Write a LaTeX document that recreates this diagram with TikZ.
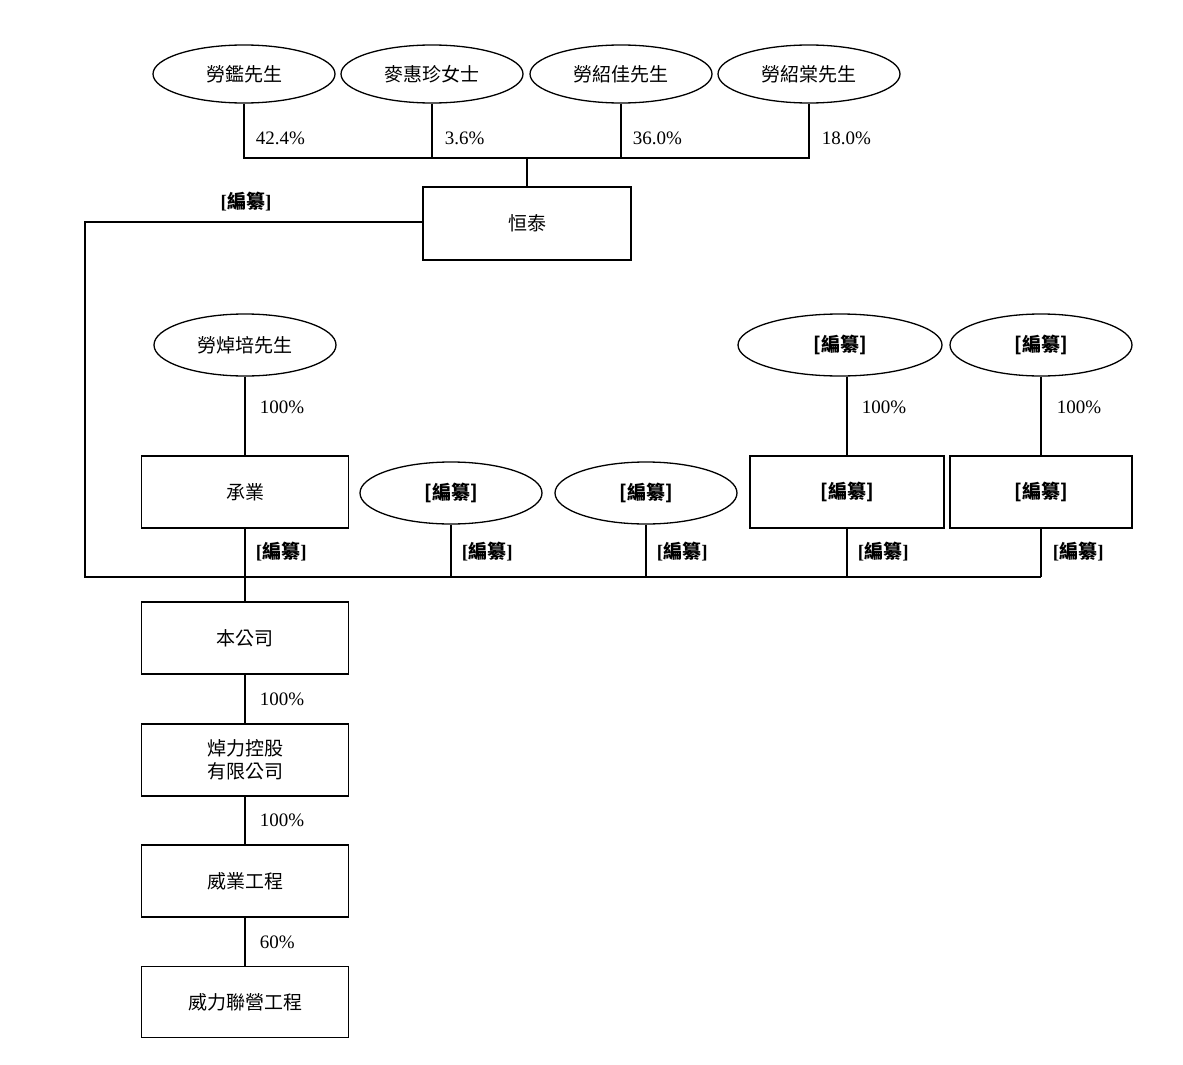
\documentclass[tikz,border=0pt]{standalone}
\usepackage{fontspec}
\setmainfont{Liberation Serif}
\newfontfamily\cjk{Noto Sans CJK TC}
\usetikzlibrary{shapes.geometric}
\begin{document}
\begin{tikzpicture}[x=1pt,y=-1pt,line width=1.3pt,
  every node/.style={font=\fontsize{19}{23}\selectfont},
  ell/.style={draw,ellipse,minimum width=182pt,minimum height=58pt,inner sep=0pt,font=\fontsize{19}{23}\selectfont\cjk},
  box/.style={draw,rectangle,minimum width=207pt,minimum height=72pt,inner sep=0pt,align=center,font=\fontsize{19}{23}\selectfont\cjk},
  pct/.style={anchor=west,font=\fontsize{19}{23}\selectfont}]
\useasboundingbox (0,0) rectangle (1183,1065);
\newcommand{\bz}{\textbf{[}{\cjk\bfseries 編纂}\textbf{]}}
% top
\node[ell] (e1) at (244,74) {勞鑑先生};
\node[ell] (e2) at (432,74) {麥惠珍女士};
\node[ell] (e3) at (621,74) {勞紹佳先生};
\node[ell] (e4) at (809,74) {勞紹棠先生};
\coordinate (j1) at (244,158); \coordinate (j4) at (809,158);
\coordinate (j2) at (432,158); \coordinate (j3) at (621,158); \coordinate (jm) at (527,158);
\draw (e1.south) -- (j1) -- (j4) -- (e4.south);
\draw (e2.south) -- (j2); \draw (e3.south) -- (j3);
\node[pct] at (252,138) {42.4\%};
\node[pct] at (441,138) {3.6\%};
\node[pct] at (629,138) {36.0\%};
\node[pct] at (818,138) {18.0\%};
\node[box,minimum width=208pt,minimum height=73pt] (ht) at (527,223.5) {恒泰};
\draw (jm) -- (ht.north);
\node at (246,202) {\bz};
\coordinate (c1) at (85,222); \coordinate (c2) at (85,577); \coordinate (c3) at (1041,577);
\draw (ht.west |- c1) -- (c1) -- (c2) -- (c3);
% middle
\node[ell,minimum height=62pt] (e5) at (245,345) {勞焯培先生};
\node[box] (cy) at (245,492) {承業};
\draw (e5.south) -- (cy.north);
\node[pct] at (256,407) {100\%};
\node[ell,minimum height=62pt] (e6) at (451,493) {\bz};
\node[ell,minimum height=62pt] (e7) at (646,493) {\bz};
\draw (e6.south) -- (e6.south |- c2);
\draw (e7.south) -- (e7.south |- c2);
\node[ell,minimum width=204pt,minimum height=62pt] (e8) at (840,345) {\bz};
\node[ell,minimum height=62pt] (e9) at (1041,345) {\bz};
\node[box,minimum width=194pt] (b8) at (847,492) {\bz};
\node[box,minimum width=182pt] (b9) at (1041,492) {\bz};
\draw (e8.south -| b8) -- (b8.north);
\draw (e9.south) -- (b9.north);
\draw (b8.south) -- (b8.south |- c2);
\draw (b9.south) -- (c3);
\node[pct] at (858,407) {100\%};
\node[pct] at (1053,407) {100\%};
\foreach \x in {252,458,653,854,1049} \node[anchor=west] at (\x,552) {\bz};
% bottom chain
\node[box] (bg) at (245,638) {本公司};
\node[box] (zl) at (245,760) {焯力控股\\有限公司};
\node[box] (wy) at (245,881) {威業工程};
\node[box,minimum height=71pt] (wl) at (245,1002) {威力聯營工程};
\draw (cy.south) -- (bg.north);
\draw (bg.south) -- (zl.north);
\draw (zl.south) -- (wy.north);
\draw (wy.south) -- (wl.north);
\node[pct] at (256,699) {100\%};
\node[pct] at (256,820) {100\%};
\node[pct] at (256,942) {60\%};
\end{tikzpicture}
\end{document}
